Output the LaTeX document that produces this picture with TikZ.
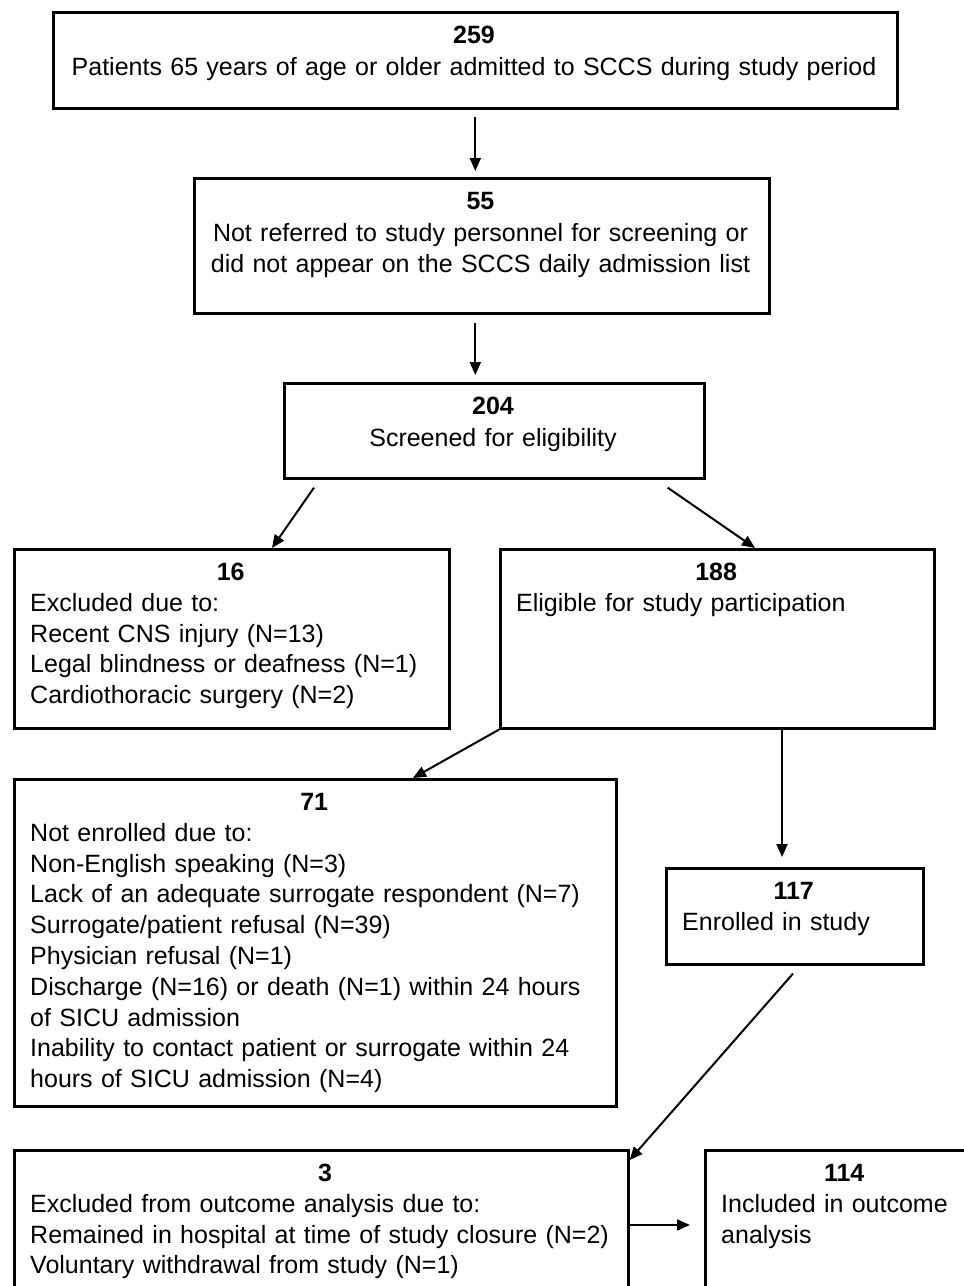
\documentclass[tikz,border=0pt]{standalone}
\usepackage{fontspec}
\setmainfont{Liberation Sans}
\usepackage{tikz}
\usetikzlibrary{arrows.meta}
\usetikzlibrary{positioning}
\tikzstyle{box}=[draw,line width=2.6pt,anchor=north west,inner sep=0pt]
\tikzstyle{txt}=[anchor=base west,inner sep=0pt,align=left,font=\fontsize{25}{30.8}\selectfont]
\tikzstyle{ctxt}=[anchor=base,inner sep=0pt,align=center,font=\fontsize{25}{31.5}\selectfont]
\tikzstyle{arr}=[draw,line width=2pt,-{Triangle[length=13pt,width=11pt]}]
\newcommand{\boxnum}[1]{\makebox[\hsize]{\bfseries #1}}

\begin{document}
\begin{tikzpicture}[x=1pt,y=-1pt]
    \useasboundingbox (0,0) rectangle (964,1286);
    \clip (0,0) rectangle (964,1286);
    % First we draw the boxes
    \foreach \name/\x/\y/\w/\h in {n259/52/11/844/96, n55/193/177/575/135, n204/283/382/420/95,
        n16/13/548/435/179, n188/499/548/434/179, n71/13/778/602/327,
        n117/665/867/257/96, n3/13/1149/614/160, n114/704/1149/280/160}
        \node[box, minimum width=\w pt, minimum height=\h pt] (\name) at (\x,\y) {};

    % Then the texts inside
    \node[ctxt, text width=830pt] (t259) at (474,43.5) {\textbf{259}\\Patients 65 years of age or older admitted to SCCS during study period};
    \node[ctxt, text width=560pt] (t55) at (480.5,209.5) {\textbf{55}\\Not referred to study personnel for screening or\\did not appear on the SCCS daily admission list};
    \node[ctxt, text width=400pt] (t204) at (493,414.5) {\textbf{204}\\Screened for eligibility};
    \node[txt, text width=401pt] (t16) at (30,580.5) {\boxnum{16}\\Excluded due to:\\Recent CNS injury (N=13)\\Legal blindness or deafness (N=1)\\Cardiothoracic surgery (N=2)};
    \node[txt, text width=400pt] (t188) at (516,580.5) {\boxnum{188}\\Eligible for study participation};
    \node[txt, text width=568pt] (t71) at (30,810.5) {\boxnum{71}\\Not enrolled due to:\\Non-English speaking (N=3)\\Lack of an adequate surrogate respondent (N=7)\\Surrogate/patient refusal (N=39)\\Physician refusal (N=1)\\Discharge (N=16) or death (N=1) within 24 hours\\of SICU admission\\Inability to contact patient or surrogate within 24\\hours of SICU admission (N=4)};
    \node[txt, text width=223pt] (t117) at (682,899.5) {\boxnum{117}\\Enrolled in study};
    \node[txt, text width=590pt] (t3) at (30,1181.5) {\boxnum{3}\\Excluded from outcome analysis due to:\\Remained in hospital at time of study closure (N=2)\\Voluntary withdrawal from study (N=1)};
    \node[txt, text width=246pt] (t114) at (721,1181.5) {\boxnum{114}\\Included in outcome\\analysis};

    % Connect boxes with arrows
    \draw[arr, shorten <=7pt, shorten >=6pt] (n259.south) -- (n259.south |- n55.north);
    \draw[arr, shorten <=8pt, shorten >=7pt] (n259.south |- n55.south) -- (n259.south |- n204.north);
    \draw[arr] ([xshift=31pt,yshift=-8pt]n204.south west) -- ([xshift=259pt]n16.north west);
    \draw[arr] ([xshift=-38pt,yshift=-8pt]n204.south east) -- ([xshift=256pt]n188.north west);
    \draw[arr] (n188.south west) -- ([xshift=400pt]n71.north west);
    \draw[arr, shorten >=10pt] ([xshift=283pt]n188.south west) -- ([xshift=117pt]n117.north west);
    \draw[arr] ([xshift=128pt,yshift=-8pt]n117.south west) -- ([yshift=-11pt]n3.north east);
    \draw[arr] ([yshift=-76pt]n3.north east) -- ([yshift=-76pt,xshift=-14pt]n114.north west);
\end{tikzpicture}
\end{document}
